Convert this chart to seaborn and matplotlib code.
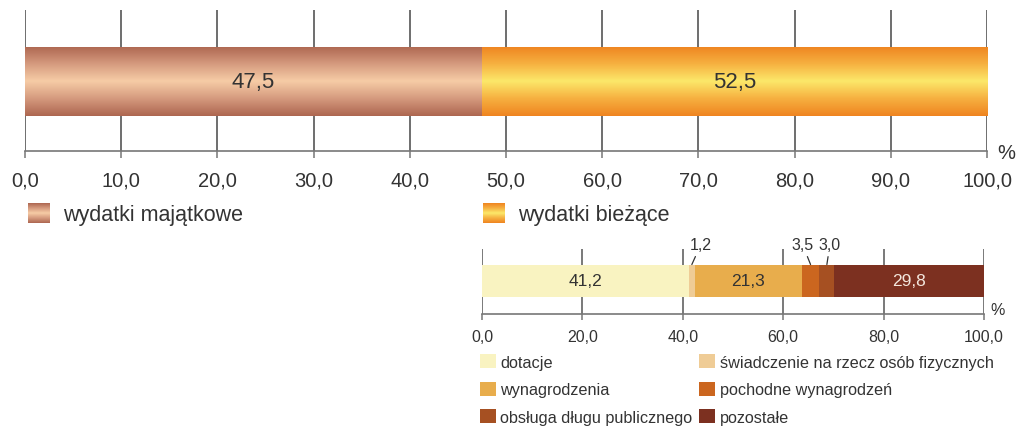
import numpy as np
import pandas as pd
import matplotlib
matplotlib.use("Agg")
import matplotlib.pyplot as plt
import seaborn as sns
from matplotlib.colors import LinearSegmentedColormap
from matplotlib.legend_handler import HandlerBase
from matplotlib.image import BboxImage
from matplotlib.transforms import Bbox, TransformedBbox
from matplotlib.patches import Patch

# ---------------- data ----------------
top_categories = ["wydatki majątkowe", "wydatki bieżące"]
top_values = [47.5, 52.5]
top_labels = ["47,5", "52,5"]

bottom_categories = ["dotacje", "świadczenie na rzecz osób fizycznych",
                     "wynagrodzenia", "pochodne wynagrodzeń",
                     "obsługa długu publicznego", "pozostałe"]
bottom_values = [41.2, 1.2, 21.3, 3.5, 3.0, 29.8]
bottom_inside_labels = ["41,2", "", "21,3", "", "", "29,8"]
bottom_callout_labels = {1: "1,2", 3: "3,5", 4: "3,0"}

top_ticks = [0, 10, 20, 30, 40, 50, 60, 70, 80, 90, 100]
bottom_ticks = [0, 20, 40, 60, 80, 100]

# ---------------- style ----------------
sns.set_theme(style="white")
plt.rcParams["font.family"] = ["Liberation Sans", "DejaVu Sans"]

W, H = 1019, 427
fig = plt.figure(figsize=(W / 100, H / 100), dpi=100)

def fig_rect(x0, y0, x1, y1):
    return [x0 / W, 1 - y1 / H, (x1 - x0) / W, (y1 - y0) / H]

grad_brown = LinearSegmentedColormap.from_list(
    "brown", ["#ad6650", "#d59a7e", "#f6cca6", "#d59a7e", "#ad6650"])
grad_orange = LinearSegmentedColormap.from_list(
    "orange", ["#ef8420", "#f6b040", "#fce86a", "#f6b040", "#ef8420"])
top_cmaps = [grad_brown, grad_orange]
bottom_colors = ["#f9f3c1", "#efcc96", "#e8ad4c", "#cb661f", "#a65022", "#7c3020"]

text_color = "#333333"
grid_color = "#555555"
axis_color = "#777777"

grad = np.linspace(0, 1, 256).reshape(-1, 1)


def style_axis(ax, ticks, fmt_size, tick_len, pad, glw, ylim):
    ax.set_xlim(0, 100)
    ax.set_ylim(*ylim)
    ax.set_xticks(ticks)
    ax.set_xticklabels([f"{t:.1f}".replace(".", ",") for t in ticks],
                       fontsize=fmt_size, color=text_color)
    ax.set_yticks([])
    ax.set_ylabel("")
    ax.set_xlabel("")
    for s in ["top", "left", "right"]:
        ax.spines[s].set_visible(False)
    ax.spines["bottom"].set_color(axis_color)
    ax.spines["bottom"].set_linewidth(1.2)
    ax.tick_params(axis="x", bottom=True, length=tick_len, width=1.1,
                   color=axis_color, pad=pad, direction="out")
    for t in ticks:
        ax.axvline(t, color=grid_color, lw=glw, zorder=0.5)
    ax.set_facecolor("none")


# ---------------- top chart ----------------
ax1 = fig.add_axes(fig_rect(25, 11, 987, 152))
df_top = pd.DataFrame({"cat": top_categories, "val": top_values})
df_top["start"] = df_top["val"].cumsum() - df_top["val"]
for i, row in df_top.iterrows():
    sns.barplot(x=[row["val"]], y=["r"], left=row["start"], color="#cccccc",
                width=0.98, orient="h", ax=ax1, zorder=2, linewidth=0)

for i, (cont, cmap) in enumerate(zip(ax1.containers, top_cmaps)):
    p = cont.patches[0]
    x, y, w, h = p.get_x(), p.get_y(), p.get_width(), p.get_height()
    im = ax1.imshow(grad, cmap=cmap, aspect="auto",
                    extent=[x, x + w, y + h, y], zorder=2.5)
    im.set_clip_path(p)
    ax1.bar_label(cont, labels=[top_labels[i]], label_type="center",
                  fontsize=16, color=text_color, zorder=5)

style_axis(ax1, top_ticks, 14.5, 5, 9, 1.2, (0.985, -1.015))
ax1.text(1.0195, -0.01, "%", transform=ax1.transAxes, fontsize=14.5,
         color=text_color, ha="center", va="center")


class GradientHandler(HandlerBase):
    def __init__(self, cmap):
        super().__init__()
        self.cmap = cmap

    def create_artists(self, legend, orig_handle, xdescent, ydescent,
                       width, height, fontsize, trans):
        bb = Bbox.from_bounds(-xdescent, -ydescent, width, height)
        img = BboxImage(TransformedBbox(bb, trans), cmap=self.cmap,
                        interpolation="bilinear")
        img.set_data(grad)
        return [img]


fs_leg = 15.5
fs_px = fs_leg * 100 / 72
for i, (cat, cmap, xpos) in enumerate(zip(top_categories, top_cmaps, [28, 483])):
    h = Patch(facecolor="none", label=cat)
    leg = fig.legend(handles=[h], labels=[cat], loc="center left",
                     bbox_to_anchor=(xpos / W, 1 - 215 / H), frameon=False,
                     fontsize=fs_leg, handlelength=22 / fs_px, handleheight=22 / fs_px,
                     handletextpad=13 / fs_px, borderpad=0, borderaxespad=0,
                     handler_map={h: GradientHandler(cmap)})
    for t in leg.get_texts():
        t.set_color(text_color)

# ---------------- bottom chart ----------------
ax2 = fig.add_axes(fig_rect(482, 250, 984, 315))
df_b = pd.DataFrame({"cat": bottom_categories, "val": bottom_values})
df_b["start"] = df_b["val"].cumsum() - df_b["val"]
for i, row in df_b.iterrows():
    sns.barplot(x=[row["val"]], y=["r"], left=row["start"],
                color=bottom_colors[i], saturation=1, width=0.985, orient="h",
                ax=ax2, zorder=2, linewidth=0)

for i, cont in enumerate(ax2.containers):
    lab = bottom_inside_labels[i]
    if lab:
        c = "#f3e6dc" if i == 5 else text_color
        ax2.bar_label(cont, labels=[lab], label_type="center", fontsize=12.5,
                      color=c, zorder=5)

offsets = {1: (9, 20), 3: (-8, 20), 4: (3, 20)}
for i, lab in bottom_callout_labels.items():
    p = ax2.containers[i].patches[0]
    cx = p.get_x() + p.get_width() / 2
    ax2.annotate(lab, xy=(cx, p.get_y()), xytext=offsets[i],
                 textcoords="offset pixels", ha="center", va="center",
                 fontsize=11.5, color=text_color, annotation_clip=False,
                 arrowprops=dict(arrowstyle="-", color=text_color, lw=0.9,
                                 shrinkA=1, shrinkB=0))

style_axis(ax2, bottom_ticks, 11.5, 4, 7, 1.1, (1.03, -0.97))
ax2.text(1.028, 0.07, "%", transform=ax2.transAxes, fontsize=11.5,
         color=text_color, ha="center", va="center")

order = [0, 2, 4, 1, 3, 5]
handles = [Patch(facecolor=bottom_colors[k], edgecolor="none") for k in order]
labels = [bottom_categories[k] for k in order]
leg2 = fig.legend(handles=handles, labels=labels, ncol=2, loc="upper left",
                  bbox_to_anchor=(480 / W, 1 - 355 / H), frameon=False,
                  fontsize=11.7, handlelength=0.98, handleheight=0.95,
                  handletextpad=0.28, columnspacing=0.4, labelspacing=0.74,
                  borderpad=0, borderaxespad=0)
for t in leg2.get_texts():
    t.set_color(text_color)

fig.savefig("out.png", dpi=100)
